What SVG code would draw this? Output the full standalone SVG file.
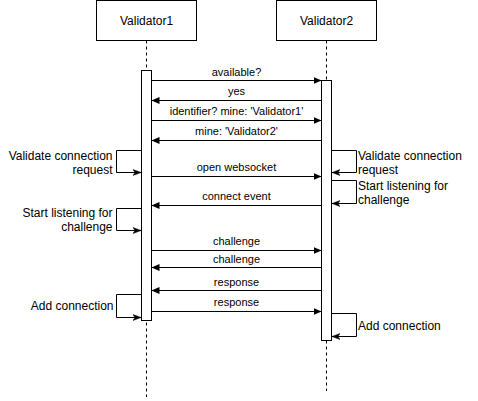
<svg xmlns="http://www.w3.org/2000/svg" width="478" height="401" viewBox="0 0 478 401">
<style>
.box{fill:#fff;stroke:#000;stroke-width:1}
.life{stroke:#000;stroke-width:1;stroke-dasharray:3 3;fill:none}
.msg{stroke:#000;stroke-width:1;fill:none;marker-end:url(#blk)}
.self{stroke:#000;stroke-width:1;fill:none;marker-end:url(#cls)}
text{font-family:"Liberation Sans",Arial,Helvetica,sans-serif;fill:#000}
.h{font-size:12px;text-anchor:middle}
.m{font-size:11px;text-anchor:middle}
.l{font-size:12px;text-anchor:end}
.r{font-size:12px;text-anchor:start}
</style>
<defs>
<marker id="blk" markerUnits="userSpaceOnUse" markerWidth="9" markerHeight="9" refX="8" refY="4" orient="auto" viewBox="0 0 9 9">
<path d="M0,0.5 L8,4 L0,7.5 Z" fill="#000"/>
</marker>
<marker id="cls" markerUnits="userSpaceOnUse" markerWidth="9" markerHeight="9" refX="8" refY="4" orient="auto" viewBox="0 0 9 9">
<path d="M0,1 L8,4 L0,7 L2,4 Z" fill="#000" stroke="#000" stroke-width="0.5"/>
</marker>
</defs>
<g id="validator1">
<line class="life" x1="146.5" y1="40.5" x2="146.5" y2="397"/>
<rect class="box" x="96.5" y="0.5" width="100" height="40"/>
<text class="h" x="146.5" y="25">Validator1</text>
<rect id="act1" class="box" x="141.5" y="70.5" width="10" height="250"/>
</g>
<g id="validator2">
<line class="life" x1="326.5" y1="40.5" x2="326.5" y2="391"/>
<rect class="box" x="276.5" y="0.5" width="100" height="40"/>
<text class="h" x="326.5" y="25">Validator2</text>
<rect id="act2" class="box" x="321.5" y="80.5" width="10" height="260"/>
</g>
<g id="connectors">
<path class="msg" d="M151.5,80.5 H321.5"/>
<path class="msg" d="M321.5,100.5 H151.5"/>
<path class="msg" d="M151.5,120.5 H321.5"/>
<path class="msg" d="M321.5,140.5 H151.5"/>
<path class="msg" d="M151.5,176.5 H321.5"/>
<path class="msg" d="M321.5,205.5 H151.5"/>
<path class="msg" d="M151.5,250.5 H321.5"/>
<path class="msg" d="M321.5,267.5 H151.5"/>
<path class="msg" d="M321.5,290.5 H151.5"/>
<path class="msg" d="M151.5,311.5 H321.5"/>
<path class="self" d="M141.5,150.5 H116.5 V172.5 H141"/>
<path class="self" d="M141.5,208.5 H116.5 V230.5 H141"/>
<path class="self" d="M141.5,294.5 H116.5 V317.5 H141"/>
<path class="self" d="M331.5,150.5 H356.5 V172.5 H332"/>
<path class="self" d="M331.5,180.5 H356.5 V203.5 H332"/>
<path class="self" d="M331.5,313.5 H356.5 V336.5 H332"/>
</g>
<g id="labels">
<text class="m" x="236.5" y="75.5">available?</text>
<text class="m" x="236.5" y="95">yes</text>
<text class="m" x="236.5" y="114.5">identifier? mine: 'Validator1'</text>
<text class="m" x="236.5" y="135">mine: 'Validator2'</text>
<text class="m" x="236.5" y="171">open websocket</text>
<text class="m" x="236.5" y="200">connect event</text>
<text class="m" x="236.5" y="245">challenge</text>
<text class="m" x="236.5" y="262.5">challenge</text>
<text class="m" x="236.5" y="286">response</text>
<text class="m" x="236.5" y="306">response</text>
<text class="l" x="112.5" y="159.5">Validate connection</text>
<text class="l" x="112.5" y="173.5">request</text>
<text class="l" x="112.5" y="216.5">Start listening for</text>
<text class="l" x="112.5" y="231">challenge</text>
<text class="l" x="113.5" y="310">Add connection</text>
<text class="r" x="358" y="159.5">Validate connection</text>
<text class="r" x="358" y="173.5">request</text>
<text class="r" x="358" y="189.5">Start listening for</text>
<text class="r" x="358" y="203.5">challenge</text>
<text class="r" x="358" y="330">Add connection</text>
</g>
</svg>
